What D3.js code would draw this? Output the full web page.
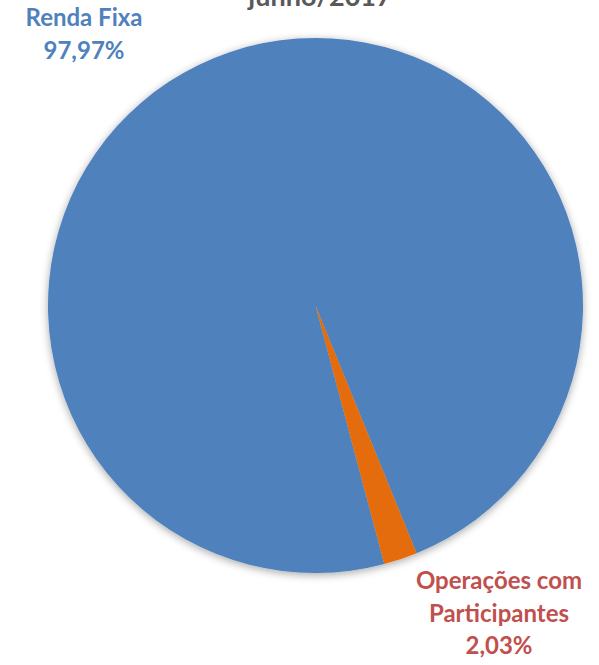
<!DOCTYPE html>
<html>
<head>
<meta charset="utf-8">
<script src="https://cdn.jsdelivr.net/npm/d3@7"></script>
<style>
  body { margin: 0; background: #fff; }
  svg text { font-family: Lato, "Open Sans", sans-serif; font-weight: bold; }
</style>
</head>
<body>
<svg id="chart" width="599" height="665"></svg>
<script>
// data
var categories = ["Renda Fixa", "Operações com Participantes"];
var values = [97.97, 2.03];
var labelLines = [["Renda Fixa"], ["Operações com", "Participantes"]];
var colors = ["#4F81BD", "#E46C0A"];
var labelColors = ["#4F81BD", "#C0504D"];
var titleText = "junho/2017";

var svg = d3.select("#chart");
var width = +svg.attr("width");

var cx = 315.5, cy = 305.5, radius = 267.5;

// soft shadow like the excel one
var defs = svg.append("defs");
var f = defs.append("filter").attr("id", "shadow")
    .attr("x", "-10%").attr("y", "-10%").attr("width", "120%").attr("height", "120%");
f.append("feGaussianBlur").attr("in", "SourceAlpha").attr("stdDeviation", 4).attr("result", "blur");
f.append("feOffset").attr("dx", 0).attr("dy", 2).attr("result", "off");
f.append("feComponentTransfer").append("feFuncA").attr("type", "linear").attr("slope", 0.35);
var fm = f.append("feMerge");
fm.append("feMergeNode");
fm.append("feMergeNode").attr("in", "SourceGraphic");

// title, only its bottom shows at the top edge
svg.append("text")
    .attr("x", 320)
    .attr("y", 6)
    .attr("text-anchor", "middle")
    .attr("fill", "#595959")
    .style("font-size", "27px")
    .text(titleText);

// first slice starts ~165 degrees clockwise from 12 o'clock
var startAng = 165.1 * Math.PI / 180;
var pie = d3.pie().sort(null)
    .startAngle(startAng)
    .endAngle(startAng + 2 * Math.PI);
var arc = d3.arc().innerRadius(0).outerRadius(radius);

var g = svg.append("g")
    .attr("transform", "translate(" + cx + "," + cy + ")")
    .attr("filter", "url(#shadow)");

g.selectAll("path")
    .data(pie(values))
    .enter()
    .append("path")
    .attr("d", arc)
    .attr("fill", function(d, i){ return colors[i]; });

// labels
var labelPos = [[84, 26], [499, 589]];
var fmt = function(v){ return v.toFixed(2).replace(".", ",") + "%"; };

values.forEach(function(v, i){
    var lines = labelLines[i].concat([fmt(v)]);
    var t = svg.append("text")
        .attr("text-anchor", "middle")
        .attr("fill", labelColors[i])
        .style("font-size", "24px");
    lines.forEach(function(line, j){
        t.append("tspan")
            .attr("x", labelPos[i][0])
            .attr("y", labelPos[i][1] + j * 32.5)
            .text(line);
    });
});
</script>
</body>
</html>
